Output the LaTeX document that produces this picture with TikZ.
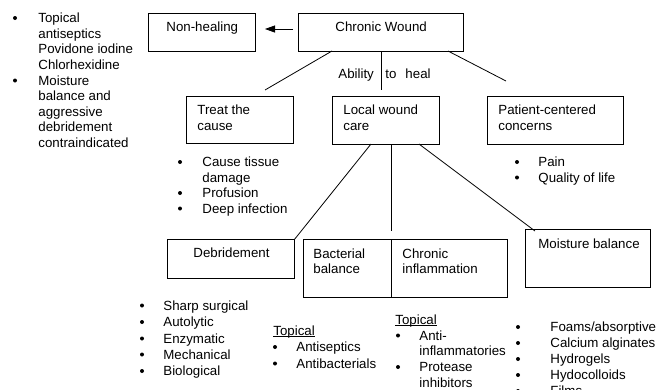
\documentclass[tikz,border=0pt]{standalone}
\usepackage{fontspec}
\setmainfont{Liberation Sans}
\usetikzlibrary{arrows.meta}
\newcommand{\fs}{\fontsize{13.3}{15.5}\selectfont}
\begin{document}
\begin{tikzpicture}[x=1pt,y=-1pt, line width=0.8pt,
  box/.style={draw, inner sep=0pt, anchor=north west},
  txt/.style={anchor=base west, inner sep=0pt, font=\fs},
  dot/.style={circle, fill, inner sep=0pt, minimum size=4pt},
  uline/.style={line width=0.9pt}]
\useasboundingbox (0,0) rectangle (656,389);
% boxes
\node[box, minimum width=107pt, minimum height=38pt] (nh) at (148,13) {};
\node[box, minimum width=165pt, minimum height=38pt] (cw) at (298,13) {};
\node[box, minimum width=107pt, minimum height=47pt] (tc) at (186,96) {};
\node[box, minimum width=107pt, minimum height=48pt] (lw) at (332,96) {};
\node[box, minimum width=136pt, minimum height=48pt] (pc) at (487,96) {};
\node[box, minimum width=127pt, minimum height=39pt] (db) at (167,239) {};
\node[box, minimum width=204pt, minimum height=58pt] (bb) at (303,239) {};
\node[box, minimum width=125pt, minimum height=58pt] (mb) at (525,229) {};
\coordinate (dvt) at (391,239);
\coordinate (dvb) at (391,297);
\draw (dvt) -- (dvb);
% box texts
\node[txt] (tnh) at (166,31) {Non-healing};
\node[txt] (tcw) at (335,31) {Chronic Wound};
\node[txt] (ttc1) at (197,114) {Treat the};
\node[txt] (ttc2) at (197,130) {cause};
\node[txt] (tlw1) at (343,114) {Local wound};
\node[txt] (tlw2) at (343,130) {care};
\node[txt] (tpc1) at (498,114) {Patient-centered};
\node[txt] (tpc2) at (498,130) {concerns};
\node[txt] (tdb) at (193,257) {Debridement};
\node[txt] (tbb1) at (313,258) {Bacterial};
\node[txt] (tbb2) at (313,273) {balance};
\node[txt] (tci1) at (402,258) {Chronic};
\node[txt] (tci2) at (402,273) {inflammation};
\node[txt] (tmb) at (538,248) {Moisture balance};
\node[txt] (tab) at (338,78) {Ability};
\node[txt] (tth) at (385,78) {to\hspace{9pt}heal};
% connectors
\coordinate (a1) at (293,29);
\coordinate (a2) at (265,29);
\draw[-{Triangle[length=10pt,width=7pt]}] (a1) -- (a2);
\coordinate (c1) at (332,51); \coordinate (c1e) at (265,90);
\coordinate (c2) at (381,51); \coordinate (c2e) at (381,90);
\coordinate (c3) at (448,51); \coordinate (c3e) at (506,81);
\draw (c1) -- (c1e);
\draw (c2) -- (c2e);
\draw (c3) -- (c3e);
\coordinate (l1) at (371,144);
\coordinate (l2) at (391,144); \coordinate (l2e) at (391,231);
\coordinate (l3) at (419,144); \coordinate (l3e) at (535,231);
\draw (l1) -- (db.north east);
\draw (l2) -- (l2e);
\draw (l3) -- (l3e);
% left top list
\node[dot] (b1) at (15,18) {};
\node[txt] (t1a) at (38,22.5) {Topical};
\node[txt] (t1b) at (38,38) {antiseptics};
\node[txt] (t1c) at (38,53.5) {Povidone iodine};
\node[txt] (t1d) at (38,69) {Chlorhexidine};
\node[dot] (b2) at (15,80.5) {};
\node[txt] (t2a) at (38,85) {Moisture};
\node[txt] (t2b) at (38,100.5) {balance and};
\node[txt] (t2c) at (38,116) {aggressive};
\node[txt] (t2d) at (38,131.5) {debridement};
\node[txt] (t2e) at (38,147) {contraindicated};
% treat the cause list
\node[dot] (b3) at (180,162) {};
\node[txt] (t3a) at (202,166.5) {Cause tissue};
\node[txt] (t3b) at (202,182) {damage};
\node[dot] (b4) at (180,193) {};
\node[txt] (t4) at (202,197.5) {Profusion};
\node[dot] (b5) at (180,208.5) {};
\node[txt] (t5) at (202,213) {Deep infection};
% patient list
\node[dot] (b6) at (517,162) {};
\node[txt] (t6) at (538,166.5) {Pain};
\node[dot] (b7) at (517,177.5) {};
\node[txt] (t7) at (538,182) {Quality of life};
% debridement list
\node[dot] (b8) at (142,305.5) {};
\node[txt] (t8) at (163,310) {Sharp surgical};
\node[dot] (b9) at (142,322) {};
\node[txt] (t9) at (163,326.5) {Autolytic};
\node[dot] (b10) at (142,338.5) {};
\node[txt] (t10) at (163,343) {Enzymatic};
\node[dot] (b11) at (142,354.5) {};
\node[txt] (t11) at (163,359) {Mechanical};
\node[dot] (b12) at (142,371) {};
\node[txt] (t12) at (163,375.5) {Biological};
% bacterial list
\node[txt] (t13) at (273,335) {Topical};
\draw[uline] ([yshift=-1.5pt]t13.base west) -- ([yshift=-1.5pt]t13.base east);
\node[dot] (b14) at (275,347) {};
\node[txt] (t14) at (296,351.7) {Antiseptics};
\node[dot] (b15) at (275,363.5) {};
\node[txt] (t15) at (296,368) {Antibacterials};
% chronic inflammation list
\node[txt] (t16) at (395,324) {Topical};
\draw[uline] ([yshift=-1.5pt]t16.base west) -- ([yshift=-1.5pt]t16.base east);
\node[dot] (b17) at (398,335.5) {};
\node[txt] (t17a) at (419,340) {Anti-};
\node[txt] (t17b) at (419,355.5) {inflammatories};
\node[dot] (b18) at (398,367) {};
\node[txt] (t18a) at (419,371.5) {Protease};
\node[txt] (t18b) at (419,387) {inhibitors};
% moisture list
\node[dot] (b19) at (518,327) {};
\node[txt] (t19) at (550,331.7) {Foams/absorptive};
\node[dot] (b20) at (518,343) {};
\node[txt] (t20) at (550,347.5) {Calcium alginates};
\node[dot] (b21) at (518,359) {};
\node[txt] (t21) at (550,363.5) {Hydrogels};
\node[dot] (b22) at (518,375) {};
\node[txt] (t22) at (550,379.5) {Hydocolloids};
\node[dot] (b23) at (518,391) {};
\node[txt] (t23) at (550,395.5) {Films};
\end{tikzpicture}
\end{document}
